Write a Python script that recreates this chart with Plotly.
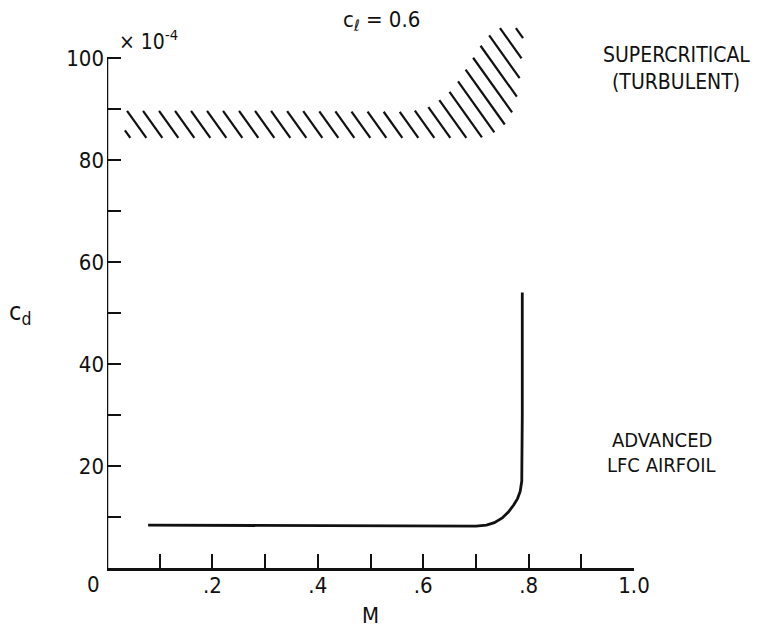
import plotly.graph_objects as go

# ---- data ----
# Advanced LFC airfoil drag curve
m_lfc = [0.078, 0.30, 0.50, 0.66, 0.70, 0.72, 0.735, 0.75, 0.762, 0.772, 0.779, 0.784, 0.787, 0.788, 0.788]
cd_lfc = [8.4, 8.3, 8.2, 8.2, 8.2, 8.4, 8.9, 9.8, 11.0, 12.4, 13.6, 15.0, 17.0, 30.0, 54.0]

# Supercritical (turbulent) band: upper and lower edges
band_m_top = [0.034, 0.30, 0.56, 0.60, 0.622, 0.657, 0.685, 0.712, 0.736, 0.755, 0.775]
band_cd_top = [89.6, 89.6, 89.4, 89.8, 91.0, 93.9, 98.4, 102.9, 105.6, 106.0, 105.9]
band_m_bot = [0.034, 0.30, 0.60, 0.70, 0.72, 0.74, 0.764, 0.78, 0.786, 0.79]
band_cd_bot = [84.3, 84.3, 84.3, 84.3, 84.5, 85.7, 87.7, 93.2, 99.0, 104.7]

x_tickvals = [0.2, 0.4, 0.6, 0.8, 1.0]
x_ticktext = [".2", ".4", ".6", ".8", "1.0"]
x_minorvals = [0.1, 0.3, 0.5, 0.7, 0.9]
y_tickvals = [20, 40, 60, 80, 100]
y_ticktext = ["20", "40", "60", "80", "100"]
y_minorvals = [10, 30, 50, 70, 90]

Y_TOP = 108.0   # room above the 100 tick for the band
FONT = "Liberation Sans Narrow, DejaVu Sans Condensed, Roboto Condensed, DejaVu Sans, sans-serif"
INK = "#111111"

# ---- hatch lines clipped to the band polygon ----
poly_m = band_m_top + band_m_bot[::-1]
poly_cd = band_cd_top + band_cd_bot[::-1]
SX, SY = 527.0, 5.1      # pixel-per-unit scales, used only to keep the hatch angle
SLOPE = 1.4              # hatch steepness (screen)
STEP = 16.0 * SLOPE      # spacing of hatch lines


def inv(m, cd):
    return SLOPE * m * SX + cd * SY


vals = [inv(a, b) for a, b in zip(poly_m, poly_cd)]
c_start = inv(0.038, 89.6)
cmin, cmax = min(vals), max(vals)
hx, hy = [], []
k = int((cmin - c_start) // STEP) - 1
while True:
    c = c_start + k * STEP
    k += 1
    if c > cmax:
        break
    if c < cmin:
        continue
    pts = []
    n = len(poly_m)
    for i in range(n):
        j = (i + 1) % n
        c1, c2 = vals[i], vals[j]
        if (c1 - c) * (c2 - c) < 0:
            t = (c - c1) / (c2 - c1)
            pts.append((poly_m[i] + t * (poly_m[j] - poly_m[i]),
                        poly_cd[i] + t * (poly_cd[j] - poly_cd[i])))
    pts.sort()
    for a in range(0, len(pts) - 1, 2):
        hx += [pts[a][0], pts[a + 1][0], None]
        hy += [pts[a][1], pts[a + 1][1], None]

fig = go.Figure()
fig.add_trace(go.Scatter(x=hx, y=hy, mode="lines",
                         line=dict(color=INK, width=2.2), hoverinfo="skip",
                         showlegend=False))
fig.add_trace(go.Scatter(x=m_lfc, y=cd_lfc, mode="lines",
                         line=dict(color=INK, width=2.8), showlegend=False))

tick_style = dict(ticks="inside", ticklen=14, tickwidth=2, tickcolor=INK)
fig.update_xaxes(range=[0, 1.0], tickvals=x_tickvals, ticktext=x_ticktext,
                 minor=dict(tickvals=x_minorvals, **tick_style), **tick_style,
                 showline=True, linecolor=INK, linewidth=2.5, showgrid=False,
                 zeroline=False, tickfont=dict(family=FONT, size=22, color=INK),
                 ticklabelstandoff=-4,
                 title=dict(text="M", font=dict(family=FONT, size=22, color=INK),
                            standoff=12))
fig.update_yaxes(range=[0, Y_TOP], tickvals=y_tickvals, ticktext=y_ticktext,
                 minor=dict(tickvals=y_minorvals, **tick_style), **tick_style,
                 showline=False, showgrid=False,
                 zeroline=False, tickfont=dict(family=FONT, size=22, color=INK),
                 ticklabelstandoff=2)

# y-axis line drawn only from 0 to 100
fig.add_shape(type="line", xref="x", yref="y", x0=0, x1=0, y0=0, y1=100,
              line=dict(color=INK, width=2.5))


def py(cd):
    return cd / Y_TOP


annotations = [
    dict(x=-0.025, y=py(-3.3), text="0", xanchor="center", size=22),
    dict(x=0.021, y=py(103.5), text="× 10<sup>-4</sup>", xanchor="left", size=21),
    dict(x=1.08, y=py(100.6), text="SUPERCRITICAL", xanchor="center", size=21),
    dict(x=1.08, y=py(95.2), text="(TURBULENT)", xanchor="center", size=21),
    dict(x=1.053, y=py(25.0), text="ADVANCED", xanchor="center", size=20),
    dict(x=1.053, y=py(20.1), text="LFC AIRFOIL", xanchor="center", size=20),
    dict(x=-0.165, y=py(50.0), text="c<sub>d</sub>", xanchor="center", size=25),
]
for a in annotations:
    s = a.pop("size")
    a.update(xref="paper", yref="paper", yanchor="middle", showarrow=False,
             borderpad=0, font=dict(family=FONT, size=s, color=INK))

fig.update_layout(width=766, height=628,
                  margin=dict(l=107, r=132, t=17, b=60, autoexpand=False),
                  plot_bgcolor="white", paper_bgcolor="white",
                  title=dict(text="c<sub>ℓ</sub> = 0.6", xref="paper", x=0.448,
                             xanchor="left", yref="container", y=1 - 19 / 628,
                             yanchor="middle",
                             font=dict(family=FONT, size=22, color=INK)),
                  annotations=annotations)

# remove the default page margin so the figure fills the window exactly
fig.write_html("out.html", config={"displayModeBar": False},
               post_script="document.body.style.margin='0';")
